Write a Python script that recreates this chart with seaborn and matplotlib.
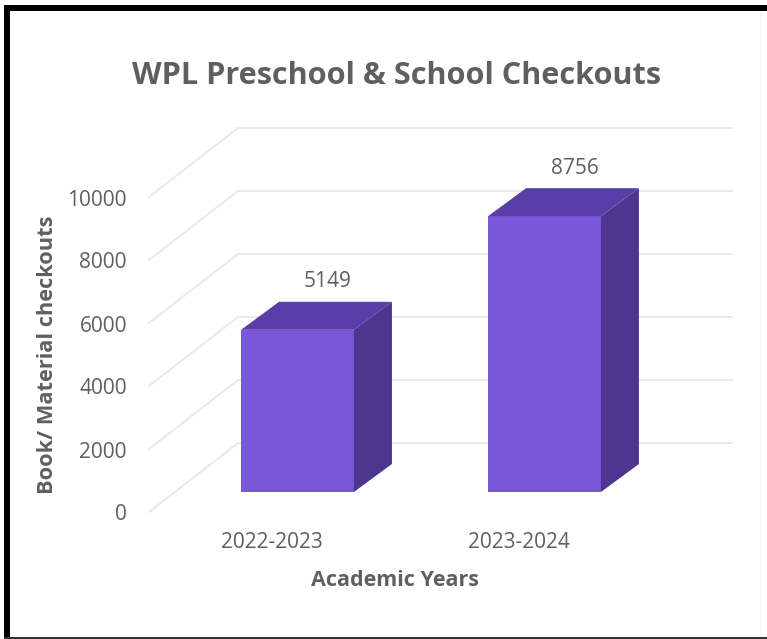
import matplotlib
matplotlib.use("Agg")
import matplotlib.pyplot as plt
from matplotlib.patches import Polygon, Rectangle
from matplotlib.transforms import ScaledTranslation
from matplotlib.lines import Line2D
import seaborn as sns
import pandas as pd

years = ["2022-2023", "2023-2024"]
checkouts = [5149, 8756]
y_ticks = [0, 2000, 4000, 6000, 8000, 10000]
title = "WPL Preschool & School Checkouts"
x_label = "Academic Years"
y_label = "Book/ Material checkouts"

FRONT, TOP, SIDE = "#7857d9", "#5a3ea8", "#4e3690"
GRID, TEXT = "#e9e9e9", "#5f5f5f"
W, H = 767, 639

sns.set_theme(style="white")
plt.rcParams["font.family"] = ["Open Sans", "DejaVu Sans"]

fig = plt.figure(figsize=(W / 100, H / 100), dpi=100, facecolor="white")
# Axes = plane of bar fronts: x 174..668 px, y0 at 492 px, 10000 at 177 px
ax = fig.add_axes([174 / W, (H - 492) / H, 494 / W, 315 / H])
ax.patch.set_alpha(0)
df = pd.DataFrame({"year": years, "checkouts": checkouts})
sns.barplot(data=df, x="year", y="checkouts", color=FRONT, saturation=1,
            width=0.457, ax=ax, zorder=5, linewidth=0)
ax.set_xlim(-0.5, 1.5)
ax.set_ylim(0, 10000)
ax.set_xlabel("")
ax.set_ylabel("")
ax.set_xticks([])
ax.set_yticks([])
sns.despine(ax=ax, left=True, bottom=True)


def px(dx, dy):
    """Offset in pixels (dy positive = up)."""
    return ScaledTranslation(dx / 100, dy / 100, fig.dpi_scale_trans)


back = (64, 49)    # back wall relative to bar plane
front = (-25, -20)  # front floor edge relative to bar plane
xtrans = ax.get_yaxis_transform()  # x axes-fraction, y data

for v in y_ticks:
    ax.add_line(Line2D([0, 1], [v, v], color=GRID, lw=1.4, clip_on=False, zorder=1,
                       transform=xtrans + px(*back)))
    p0 = xtrans.transform((0, v))
    ax.add_line(Line2D([p0[0] + front[0], p0[0] + back[0]],
                       [p0[1] + front[1], p0[1] + back[1]],
                       color=GRID, lw=1.4, clip_on=False, zorder=1, transform=None))
    ax.text(-0.0, v, str(v), transform=xtrans + px(-47, -23), ha="right", va="center",
            fontsize=15, color=TEXT, clip_on=False)

depth = (38, 28)
for bar, val in zip(ax.patches, checkouts):
    x0, x1 = bar.get_x(), bar.get_x() + bar.get_width()
    (ax0, ay0), (ax1, ay1) = ax.transData.transform([(x0, 0), (x1, val)])
    dx, dy = depth
    top = [(ax0, ay1), (ax1, ay1), (ax1 + dx, ay1 + dy), (ax0 + dx, ay1 + dy)]
    side = [(ax1, ay0), (ax1 + dx, ay0 + dy), (ax1 + dx, ay1 + dy), (ax1, ay1)]
    fig.add_artist(Polygon(top, closed=True, fc=TOP, ec="none", transform=None, zorder=4))
    fig.add_artist(Polygon(side, closed=True, fc=SIDE, ec="none", transform=None, zorder=4))
    ax.text((x0 + x1) / 2, val, str(val), transform=ax.transData + px(30, 48), ha="center",
            va="center", fontsize=15, color=TEXT, clip_on=False, zorder=6)

for i, lab in enumerate(years):
    ax.text(i, 0, lab, transform=ax.transData + px(-26, -50), ha="center", va="center",
            fontsize=15, color=TEXT, clip_on=False)

fig.text(397 / W, 1 - 76 / H, title, ha="center", va="center", fontsize=22.1,
         fontweight="bold", color=TEXT)
fig.text(395 / W, 1 - 581 / H, x_label, ha="center", va="center", fontsize=15.5,
         fontweight="bold", color=TEXT)
fig.text(45 / W, 1 - 355 / H, y_label, rotation=90, ha="center", va="center",
         fontsize=15.7, fontweight="bold", color=TEXT, transform=fig.transFigure + px(3, 0))

# Screenshot frame
for (x, y, w, h, c) in [(4, 0, 6, 639, "black"), (0, 5, 767, 6, "black"),
                        (4, 637, 763, 2, "#333333"), (760, 11, 1, 626, "#f3f3f3")]:
    fig.add_artist(Rectangle((x / W, 1 - (y + h) / H), w / W, h / H, fc=c, ec="none",
                             transform=fig.transFigure, zorder=10))
fig.add_artist(Rectangle((0, 0), 4 / W, 1, fc="white", ec="none", transform=fig.transFigure, zorder=11))
fig.add_artist(Rectangle((0, 1 - 5 / H), 1, 5 / H, fc="white", ec="none", transform=fig.transFigure, zorder=11))

fig.savefig("out.png", dpi=100)
